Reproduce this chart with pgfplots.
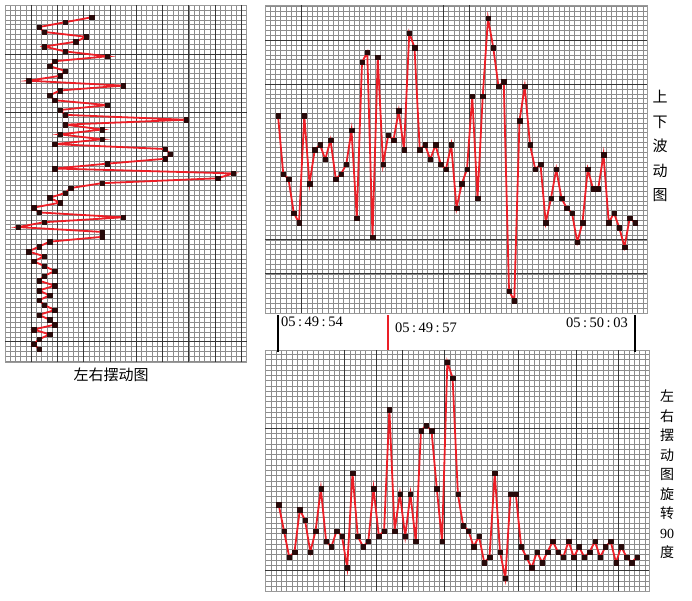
\documentclass[border=0pt]{standalone}
\usepackage{pgfplots}
\usepackage{pgfplotstable}
\pgfplotsset{compat=1.18}
\usepackage{fontspec}
\setmainfont{Liberation Serif}
\newfontfamily\cjk{Noto Sans CJK SC}
\definecolor{linered}{RGB}{235,30,38}
\definecolor{markbk}{RGB}{40,10,10}
\definecolor{gridminor}{RGB}{140,140,140}
\definecolor{gridmajor}{RGB}{55,55,55}

\pgfplotstableread{
i tr br
1 38 14
2 26 9
3 25 4
4 18 5
5 16 13
6 38 11
7 24 5
8 31 9
9 32 17
10 29 7
11 33 6
12 25 9
13 26 8
14 28 2
15 35 20
16 17 8
17 49 6
18 51 7
19 13 17
20 50 8
21 28 9
22 34 32
23 33 9
24 39 16
25 31 8
26 55 16
27 52 7
28 31 28
29 32 29
30 29 28
31 32 17
32 28 7
33 27 41
34 32 38
35 19 16
36 24 10
37 27 9
38 42 6
39 21 8
40 42 3
41 58 4
42 52 20
43 44 5
44 45 0
45 2 16
46 0 16
47 37 6
48 44 4
49 32 2
50 27 5
51 28 3
52 16 5
53 21 7
54 27 5
55 21 4
56 19 7
57 18 4
58 12 6
59 16 4
60 27 5
61 23 7
62 23 4
63 30 6
64 16 7
65 18 3
66 15 6
67 11 4
68 17 3
69 16 4
}\data

\pgfplotsset{
 panel/.style={
  scale only axis,
  anchor=north west,
  axis line style={draw=gray!80},
  xticklabels={}, yticklabels={},
  extra x tick labels={}, extra y tick labels={},
  major tick length=0pt,
  grid=major,
  major grid style={draw=gridminor, line width=0.45pt},
  extra tick style={major tick length=0pt, major grid style={draw=gridmajor, line width=0.7pt}},
 },
 series/.style={color=linered, line width=1.8pt, mark=square*, mark size=2.2pt,
   mark options={fill=markbk, draw=markbk, line width=0.3pt}},
}

\begin{document}
\begin{tikzpicture}
\path[use as bounding box] (0pt,0pt) rectangle (692pt,-600pt);

% left panel
\begin{axis}[panel, at={(5pt,-5pt)}, width=241.5pt, height=356.7pt,
  xmin=-2.48, xmax=43.5, ymin=-1.52, ymax=71.6, y dir=reverse,
  xtick={-1.5,-0.5,...,43.5}, ytick={-0.5,0.5,...,71.5},
  extra x ticks={2.5,7.5,...,42.5}, extra y ticks={8.5,20.5,67.5}]
\addplot[series] table[x=br, y=i] {\data};
\end{axis}

% top right panel
\begin{axis}[panel, at={(265pt,-5pt)}, width=382pt, height=308pt,
  xmin=-1.48, xmax=71.29, ymin=-2.55, ymax=60.73,
  xtick={-0.5,0.5,...,70.5}, ytick={-1.5,-0.5,...,60.5},
  extra x ticks={5.5,32.5,37.5}, extra y ticks={5.5,12.5,44.5,53.5}]
\addplot[series] table[x=i, y=tr] {\data};
\end{axis}

% bottom right panel
\begin{axis}[panel, at={(265pt,-350pt)}, width=384pt, height=241pt,
  xmin=-1.6, xmax=71.27, ymin=-2.41, ymax=43.3,
  xtick={-1.5,-0.5,...,70.5}, ytick={-1.5,-0.5,...,42.5},
  extra x ticks={13.5,19.5,24.5,32.5,46.5,57.5,65.5}, extra y ticks={1.5,28.5}]
\addplot[series] table[x=i, y=br] {\data};
\end{axis}

% markers between panels
\draw[black, line width=1.3pt] (278pt,-315pt) -- (278pt,-352pt);
\draw[linered, line width=1.3pt] (388pt,-315pt) -- (388pt,-350pt);
\draw[black, line width=1.3pt] (635pt,-315pt) -- (635pt,-352pt);

\node[anchor=west, inner sep=0pt, font=\fontsize{14.5}{14.5}\selectfont] at (281pt,-322pt) {05\hspace{2.5pt}:\hspace{2.5pt}49\hspace{2.5pt}:\hspace{2.5pt}54};
\node[anchor=west, inner sep=0pt, font=\fontsize{14.5}{14.5}\selectfont] at (395pt,-328pt) {05\hspace{2.5pt}:\hspace{2.5pt}49\hspace{2.5pt}:\hspace{2.5pt}57};
\node[anchor=west, inner sep=0pt, font=\fontsize{14.5}{14.5}\selectfont] at (566pt,-323pt) {05\hspace{2.5pt}:\hspace{2.5pt}50\hspace{2.5pt}:\hspace{2.5pt}03};

\node[font=\cjk\fontsize{15}{15}\selectfont] at (111pt,-375pt) {左右摆动图};
\node[anchor=north, inner sep=0pt, align=center, font=\cjk\fontsize{15}{24.5}\selectfont] at (660pt,-90pt) {上\\下\\波\\动\\图};
\node[anchor=north, inner sep=0pt, align=center, font=\fontsize{14}{19.5}\selectfont] at (667pt,-390pt) {{\cjk 左}\\{\cjk 右}\\{\cjk 摆}\\{\cjk 动}\\{\cjk 图}\\{\cjk 旋}\\{\cjk 转}\\90\\{\cjk 度}};
\end{tikzpicture}
\end{document}
